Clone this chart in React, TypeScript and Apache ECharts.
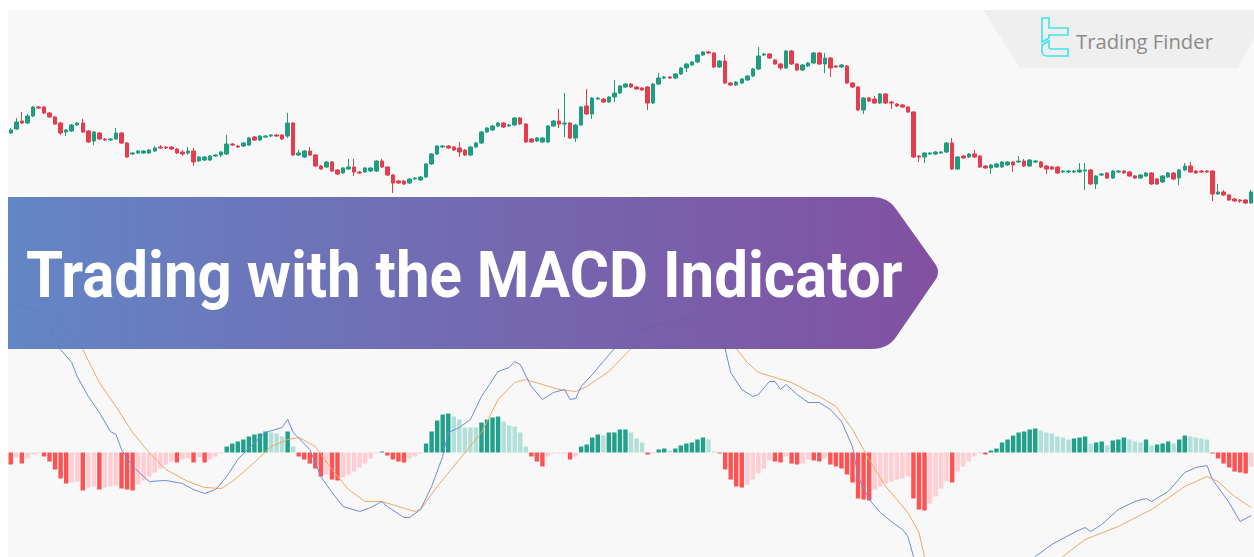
import React, { useEffect, useRef } from 'react';
import * as echarts from 'echarts';

// ---------- Candles (price units, arbitrary scale) ----------
const opens = [
  77,81,89,87,94,103,103,97,93,87,
  78,79,85,87,79,69,77,71,70,71,
  77,67,56,57,57,57,59,63,63,63,
  61,58,57,59,49,50,50,54,55,56,
  66,64,64,65,73,70,73,74,75,75,
  74,87,55,53,59,55,44,43,48,40,
  37,41,43,38,38,39,39,49,43,35,
  29,29,27,31,30,33,46,56,63,64,
  63,62,60,55,63,67,78,80,84,87,
  84,85,92,86,71,69,68,68,84,89,
  86,87,72,85,104,96,111,111,108,113,
  117,123,126,123,122,123,107,126,132,133,
  132,136,142,145,148,155,158,157,143,149,
  127,125,127,130,134,141,155,156,150,146,
  142,159,146,140,144,147,157,146,152,144,
  143,144,127,123,100,112,111,107,116,108,
  106,105,103,98,54,53,56,56,57,58,
  67,41,54,53,56,54,44,42,43,43,
  45,48,48,49,44,48,48,44,43,43,
  38,38,38,38,39,40,26,35,37,32,
  38,39,38,34,32,34,37,31,28,33,
  37,32,40,44,39,39,39,39,16,18,
  15,11,10,10,7,
];
const closes = [
  80,88,87,94,103,102,97,93,86,77,
  80,85,87,78,68,78,71,70,71,77,
  67,53,57,59,59,60,62,62,62,61,
  57,56,59,48,53,53,54,55,58,66,
  65,63,67,72,70,74,74,75,74,71,
  87,55,57,59,55,44,41,48,39,36,
  42,43,38,37,42,42,49,43,35,27,
  27,26,31,32,33,46,56,64,64,62,
  60,58,55,63,67,78,82,84,87,83,
  85,92,86,68,68,72,72,84,89,86,
  87,72,85,103,96,112,112,108,113,117,
  124,126,123,121,120,107,126,132,133,132,
  136,142,146,148,155,158,157,143,149,127,
  125,128,131,134,141,154,156,152,146,142,
  159,146,140,145,147,157,146,152,142,143,
  145,127,123,100,112,109,107,116,107,107,
  104,103,98,53,53,57,57,58,58,67,
  41,53,52,56,53,43,42,45,46,48,
  48,45,49,44,50,49,43,41,41,37,
  39,39,39,40,40,26,34,36,32,39,
  39,37,34,32,35,37,26,26,34,37,
  31,40,44,38,37,38,38,16,18,15,
  10,9,9,7,18,
];
const lows = [
  76,80,86,86,93,101,96,92,85,75,
  74,78,84,77,67,65,70,69,69,70,
  66,52,55,56,56,56,58,61,61,60,
  56,54,55,44,48,49,49,53,53,55,
  64,62,63,64,69,69,72,73,73,70,
  72,54,54,52,54,43,40,42,38,35,
  36,40,34,36,37,38,38,42,34,17,
  26,25,26,30,29,32,45,55,62,61,
  59,53,54,54,62,66,77,79,83,82,
  83,84,85,67,67,68,67,67,83,82,
  73,71,68,84,95,91,110,107,107,108,
  116,122,122,120,119,100,106,125,131,131,
  131,135,138,144,147,154,156,142,142,126,
  124,124,126,129,133,140,154,151,145,140,
  141,145,139,139,143,146,145,137,133,142,
  142,126,122,99,96,108,106,106,106,101,
  103,102,97,52,48,47,55,55,56,57,
  40,40,51,52,52,42,41,36,42,42,
  44,38,47,43,43,47,42,36,40,36,
  37,37,37,37,20,25,21,34,31,31,
  37,36,33,31,31,33,25,25,27,32,
  30,25,39,37,36,37,37,9,15,14,
  9,8,7,6,6,
];
const highs = [
  82,92,98,96,104,104,104,98,94,88,
  81,86,88,91,80,79,78,72,72,82,
  78,68,58,60,60,61,64,65,64,64,
  62,60,63,62,54,54,55,56,59,75,
  67,65,68,73,74,75,75,76,76,76,
  97,88,60,60,63,56,45,49,49,41,
  43,51,51,39,43,43,50,51,44,36,
  30,30,32,33,34,47,57,65,65,65,
  64,68,61,64,68,79,83,85,88,88,
  86,93,93,87,72,73,73,85,90,101,
  117,88,86,104,121,113,113,112,114,130,
  125,127,127,124,123,124,127,137,134,134,
  137,143,147,149,156,159,159,158,150,155,
  128,129,132,135,142,163,157,157,151,147,
  160,160,147,146,148,158,158,157,153,145,
  146,145,128,124,113,113,114,117,117,109,
  107,106,104,99,55,58,58,59,59,68,
  72,54,55,57,60,55,45,46,47,49,
  49,49,54,51,51,50,49,45,44,44,
  40,40,40,47,47,41,35,37,38,40,
  40,40,39,35,36,38,38,32,35,38,
  38,41,47,48,40,40,40,40,26,20,
  16,12,11,11,20,
];

// ---------- MACD histogram ----------
const histValues = [
  -12,-5,-11,-6,-2,-1,-4,-9,-17,-26,
  -31,-30,-29,-38,-35,-34,-37,-35,-34,-33,
  -36,-37,-38,-32,-28,-24,-20,-16,-12,-9,
  -10,-7,-6,-10,-5,-10,-7,-4,-1,6,
  9,11,13,16,18,19,21,20,19,16,
  21,6,-4,-7,-11,-16,-24,-22,-27,-28,
  -25,-22,-19,-15,-11,-6,-1,1,-3,-7,
  -9,-10,-6,-4,-1,9,21,32,38,39,
  36,33,25,25,25,30,33,35,36,31,
  27,26,20,6,-4,-9,-14,-4,-1,-1,
  -1,-7,-4,6,8,15,18,17,20,20,
  23,23,20,14,10,-2,-1,3,4,2,
  4,7,9,10,13,15,13,1,-1,-17,
  -27,-34,-35,-32,-27,-21,-16,-8,-9,-10,
  -4,-11,-12,-11,-7,-8,-9,-6,-12,-14,
  -16,-22,-30,-46,-47,-48,-37,-34,-31,-29,
  -27,-26,-24,-46,-57,-58,-51,-44,-36,-29,
  -30,-19,-14,-9,-4,-1,-2,2,4,10,
  13,17,20,21,23,24,22,20,19,16,
  15,13,14,15,16,9,10,11,7,12,
  13,15,13,11,10,13,7,8,9,11,
  9,13,17,16,15,14,13,-1,-6,-11,
  -15,-19,-20,-21,-14,
];
// G = growing above zero, g = falling above zero, R = falling below zero, r = rising below zero
const histCodes = [
  'R','r','R','r','r','r','R','R','R','R',
  'R','r','r','R','r','r','R','r','r','r',
  'R','R','R','r','r','r','r','r','r','r',
  'R','r','r','R','r','R','r','r','r','G',
  'G','G','G','G','G','G','G','g','g','g',
  'G','g','R','R','R','R','R','r','R','R',
  'r','r','r','r','r','r','r','G','R','R',
  'R','R','r','r','r','G','G','G','G','G',
  'g','g','g','g','g','G','G','G','G','g',
  'g','g','g','g','R','R','R','r','r','r',
  'r','R','r','G','G','G','G','g','G','G',
  'G','G','g','g','g','R','r','G','G','g',
  'G','G','G','G','G','G','g','g','R','R',
  'R','R','R','r','r','r','r','r','R','R',
  'r','R','R','r','r','R','R','r','R','R',
  'R','R','R','R','R','R','r','r','r','r',
  'r','r','r','R','R','R','r','r','r','r',
  'R','r','r','r','r','r','R','G','G','G',
  'G','G','G','G','G','G','g','g','g','g',
  'g','g','G','G','G','g','G','G','g','G',
  'G','G','g','g','g','G','g','G','G','G',
  'g','G','G','g','g','g','g','R','R','R',
  'R','R','R','R','r',
];

// ---------- MACD & signal lines: [bar index, value] ----------
const macdPoints = [
  [0,148],[3,145],[5,141],[7,128],[9,103],[11,90],[12,76],[14,56],[16,40],[18,21],
  [19,18],[20,3],[22,-14],[25,-29],[28,-28],[31,-31],[33,-37],[35,-41],[37,-37],[39,-24],
  [41,-7],[44,10],[46,20],[49,25],[50,33],[51,20],[54,3],[56,-24],[58,-40],[60,-54],
  [63,-59],[65,-55],[67,-49],[68,-54],[71,-65],[72,-65],[74,-57],[76,-34],[78,-4],[79,20],
  [81,25],[83,33],[85,56],[88,81],[90,85],[91,91],[92,88],[94,66],[96,53],[98,60],
  [100,63],[101,53],[102,54],[103,66],[105,78],[107,91],[109,104],[112,118],[117,128],[122,135],
  [124,140],[126,135],[128,123],[129,104],[130,80],[132,63],[134,56],[135,58],[137,71],[138,71],
  [139,63],[140,68],[142,58],[144,50],[146,50],[148,43],[150,31],[152,6],[153,-24],[155,-47],
  [157,-60],[159,-69],[161,-77],[162,-84],[163,-104],[166,-135],[170,-155],[175,-160],[180,-140],[185,-104],
  [188,-92],[192,-80],[194,-75],[195,-79],[197,-72],[200,-57],[203,-49],[205,-46],[206,-49],[209,-39],
  [212,-20],[214,-15],[216,-13],[217,-27],[220,-50],[222,-69],[224,-63],
];
const signalPoints = [
  [0,190],[6,155],[10,125],[13,103],[16,70],[19,46],[22,20],[25,0],[28,-17],[32,-29],
  [35,-35],[38,-36],[40,-29],[44,-10],[47,6],[50,13],[52,15],[55,6],[58,-17],[61,-37],
  [64,-49],[67,-49],[70,-54],[73,-59],[74,-57],[77,-34],[81,-7],[85,20],[88,53],[91,70],
  [93,73],[96,68],[99,63],[102,61],[104,66],[108,81],[112,104],[119,123],[125,133],[128,128],
  [131,104],[133,90],[135,80],[138,75],[141,70],[144,61],[146,56],[149,46],[152,23],[155,-7],
  [158,-34],[162,-60],[164,-80],[165,-104],[170,-130],[175,-155],[180,-150],[185,-130],[190,-104],[194,-87],
  [200,-74],[206,-57],[212,-34],[216,-24],[218,-29],[221,-44],[224,-55],
];

const TITLE = 'Trading with the MACD Indicator';
const BRAND = 'Trading Finder';

const UP = '#1f9d80';
const DOWN = '#e43d4e';
const HIST_COLORS: Record<string, string> = {
  G: '#21a08a',
  g: '#b2dfd8',
  R: '#ff5252',
  r: '#ffcdd2',
};

const BANNER_PATH =
  'M0,0 H864 Q880,0 888,12 L928,68 Q932,75 928,82 L888,140 Q880,152 864,152 H0 Z';
const LOGO_PATH =
  'M1,0 H8 V10 H27 V17 H8 V20 L1,24 Z M1,27 L8,23 V29 Q8,31 10,31 H27 V38 H6 Q1,38 1,33 Z';

let shapesRegistered = false;
function registerShapes() {
  if (shapesRegistered) return;
  echarts.graphic.registerShape('mbanner', echarts.graphic.extendPath(BANNER_PATH, {}) as any);
  echarts.graphic.registerShape('tflogo', echarts.graphic.extendPath(LOGO_PATH, {}) as any);
  shapesRegistered = true;
}

function measure(font: string, text: string): number {
  const ctx = document.createElement('canvas').getContext('2d');
  if (!ctx) return 0;
  ctx.font = font;
  return ctx.measureText(text).width;
}

function sparse(points: number[][], n: number) {
  const arr: (number | null)[] = new Array(n).fill(null);
  points.forEach(([i, v]) => {
    arr[i] = v;
  });
  return arr;
}

export default function App() {
  const ref = useRef<HTMLDivElement>(null);

  useEffect(() => {
    if (!ref.current) return;
    registerShapes();
    const chart = echarts.init(ref.current, null, { renderer: 'svg' });
    const N = opens.length;
    const categories = opens.map((_, i) => String(i + 1));
    const candleData = opens.map((o, i) => [o, closes[i], lows[i], highs[i]]);
    const histData = histValues.map((v, i) => ({
      value: v,
      itemStyle: { color: HIST_COLORS[histCodes[i]] },
    }));

    const titleW = measure('bold 64px Roboto', TITLE) || 1000;
    const titleScale = 877 / titleW;
    const brandW = measure('20px "Open Sans"', BRAND) || 140;
    const brandScale = 137 / brandW;

    chart.setOption({
      animation: false,
      backgroundColor: '#f8f8f8',
      grid: [
        { left: 8, right: 0, top: 10, height: 200, containLabel: false },
        { left: 8, right: 0, top: 250, height: 307, containLabel: false },
      ],
      xAxis: [
        { type: 'category', gridIndex: 0, data: categories, show: false, boundaryGap: true },
        { type: 'category', gridIndex: 1, data: categories, show: false, boundaryGap: true },
      ],
      yAxis: [
        { type: 'value', gridIndex: 0, min: 0, max: 200, show: false, splitLine: { show: false } },
        { type: 'value', gridIndex: 1, min: -104.5, max: 202.5, show: false, splitLine: { show: false } },
      ],
      series: [
        {
          type: 'candlestick',
          xAxisIndex: 0,
          yAxisIndex: 0,
          data: candleData,
          barWidth: 4,
          itemStyle: {
            color: UP,
            color0: DOWN,
            borderColor: UP,
            borderColor0: DOWN,
            borderWidth: 1,
          },
        },
        {
          type: 'bar',
          xAxisIndex: 1,
          yAxisIndex: 1,
          data: histData,
          barWidth: '80%',
          z: 2,
        },
        {
          type: 'line',
          xAxisIndex: 1,
          yAxisIndex: 1,
          data: sparse(macdPoints, N),
          connectNulls: true,
          symbol: 'none',
          lineStyle: { color: '#6f8bd8', width: 1 },
          z: 4,
        },
        {
          type: 'line',
          xAxisIndex: 1,
          yAxisIndex: 1,
          data: sparse(signalPoints, N),
          connectNulls: true,
          symbol: 'none',
          lineStyle: { color: '#f2a765', width: 1 },
          z: 3,
        },
      ],
      graphic: [
        {
          type: 'rect',
          z: 200,
          shape: { x: 0, y: 0, width: 1254, height: 10 },
          style: { fill: '#ffffff' },
          silent: true,
        },
        {
          type: 'rect',
          z: 200,
          shape: { x: 0, y: 0, width: 8, height: 557 },
          style: { fill: '#ffffff' },
          silent: true,
        },
        {
          type: 'polygon',
          z: 50,
          shape: {
            points: [
              [983, 10],
              [1254, 10],
              [1254, 38],
              [1238, 68],
              [1020, 68],
            ],
          },
          style: { fill: '#efefef' },
          silent: true,
        },
        {
          type: 'tflogo',
          z: 60,
          x: 1041,
          y: 18,
          style: { fill: 'none', stroke: '#3fe3ec', lineWidth: 1.6 },
          silent: true,
        },
        {
          type: 'text',
          z: 60,
          x: 1076,
          y: 41,
          scaleX: brandScale,
          style: {
            text: BRAND,
            fill: '#8c8c8c',
            fontSize: 20,
            fontFamily: 'Open Sans',
            fontWeight: 'normal',
            align: 'left',
            verticalAlign: 'middle',
            textAlign: 'left',
            textVerticalAlign: 'middle',
          },
          silent: true,
        },
        {
          type: 'mbanner',
          z: 100,
          x: 8,
          y: 197,
          style: {
            opacity: 0.95,
            fill: {
              type: 'linear',
              x: 0,
              y: 0,
              x2: 1,
              y2: 0,
              colorStops: [
                { offset: 0, color: '#5b80c2' },
                { offset: 0.5, color: '#6c62ae' },
                { offset: 1, color: '#7b489d' },
              ],
            },
          },
          silent: true,
        },
        {
          type: 'text',
          z: 110,
          x: 26,
          y: 275,
          scaleX: titleScale,
          style: {
            text: TITLE,
            fill: '#ffffff',
            fontSize: 64,
            fontFamily: 'Roboto',
            fontWeight: 'bold',
            align: 'left',
            verticalAlign: 'middle',
            textAlign: 'left',
            textVerticalAlign: 'middle',
          },
          silent: true,
        },
      ],
    });
    return () => chart.dispose();
  }, []);

  return (
    <div
      ref={ref}
      style={{ position: 'fixed', left: 0, top: 0, width: 1254, height: 557 }}
    />
  );
}
